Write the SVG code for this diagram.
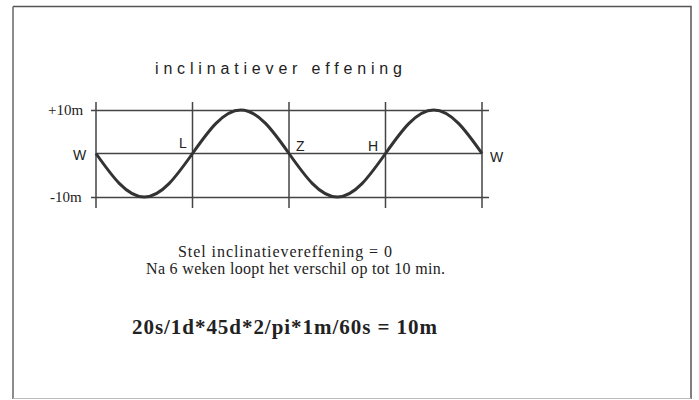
<svg xmlns="http://www.w3.org/2000/svg" width="699" height="400" viewBox="0 0 699 400">
<style>
.grid{stroke:#444;stroke-width:1.5;fill:none}
.wave{stroke:#333;stroke-width:3;fill:none;stroke-linejoin:round}
.lbl{font-family:"Liberation Sans",Arial,sans-serif;font-size:14px;fill:#222}
.ax{font-family:"Liberation Serif","Times New Roman",serif;font-size:15px;fill:#222}
.body{font-family:"Liberation Serif","Times New Roman",serif;font-size:16px;fill:#222}
.formula{font-family:"Liberation Serif","Times New Roman",serif;font-size:21px;font-weight:bold;fill:#222}
</style>
<rect width="699" height="400" fill="#fff"/>
<g id="frame">
<path d="M13,6.5 H691 V399" stroke="#555" stroke-width="1.5" fill="none"/>
<path d="M13,6.5 V399" stroke="#666" stroke-width="1.5" fill="none"/>
<path d="M13,398.5 H691" stroke="#bbb" stroke-width="1" fill="none"/>
</g>
<g id="title"><text x="155" y="74" font-family="'Liberation Sans',Arial,sans-serif" font-size="16" textLength="247" lengthAdjust="spacing" fill="#222">inclinatiever effening</text></g>
<g id="chart">
<path class="grid" d="M91,110.5 H489 M96,153.5 H482 M91,197.5 H489"/>
<path class="grid" d="M96,102 V208 M192.5,102 V208 M289,102 V208 M385.5,102 V208 M482,102 V208"/>
<path class="wave" d="M96,153.5 C111.74,175.79 126.79,197 144.25,197 C161.71,197 176.76,175.79 192.5,153.5 C208.24,131.21 223.29,110 240.75,110 C258.21,110 273.26,131.21 289,153.5 C304.74,175.79 319.79,197 337.25,197 C354.71,197 369.76,175.79 385.5,153.5 C401.24,131.21 416.29,110 433.75,110 C451.21,110 466.26,131.21 482,153.5"/>
<text class="ax" x="48" y="115">+10m</text>
<text class="ax" x="50" y="202">-10m</text>
<text class="lbl" x="73" y="160">W</text>
<text class="lbl" x="179" y="148">L</text>
<text class="lbl" x="296" y="151">Z</text>
<text class="lbl" x="368" y="151">H</text>
<text class="lbl" x="490" y="162">W</text>
</g>
<g id="notes">
<text class="body" x="178" y="257" textLength="214" lengthAdjust="spacing">Stel inclinatievereffening = 0</text>
<text class="body" x="146" y="274" textLength="299" lengthAdjust="spacing">Na 6 weken loopt het verschil op tot 10 min.</text>
<text class="formula" x="132" y="334" textLength="305" lengthAdjust="spacing">20s/1d*45d*2/pi*1m/60s = 10m</text>
</g>
</svg>
